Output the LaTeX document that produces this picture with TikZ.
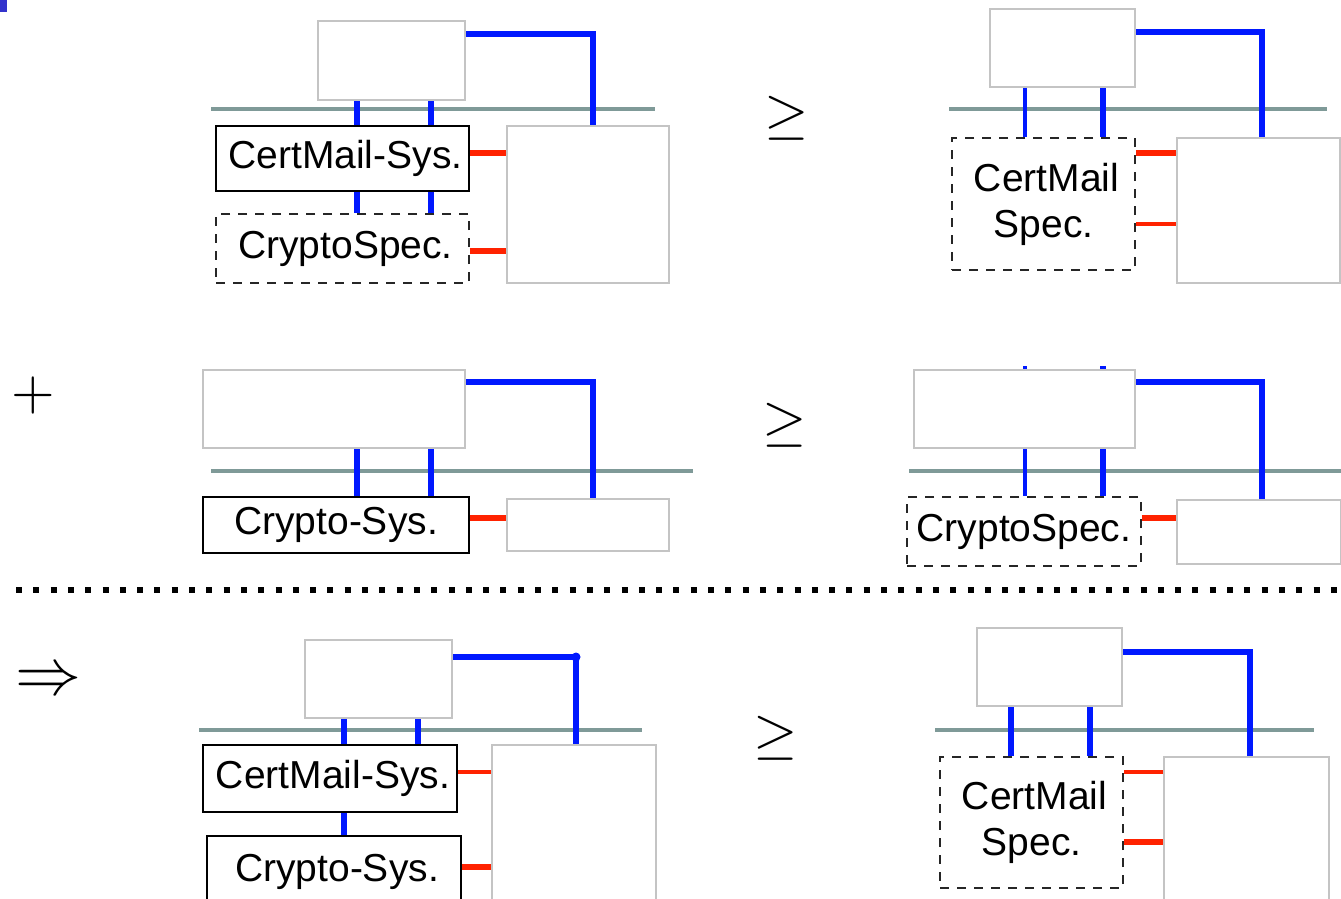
\documentclass[tikz,border=0pt]{standalone}
\usepackage{fontspec}
\setmainfont{Liberation Sans}
\definecolor{linkblue}{HTML}{0018FF}
\definecolor{linkred}{HTML}{FF2200}
\definecolor{busgray}{HTML}{7F9A98}
\definecolor{boxgray}{HTML}{C4C4C4}
\definecolor{cornerblue}{HTML}{3333CC}
\newcommand{\lblfont}{\fontsize{39}{46}\selectfont}
% relation signs: 10pt math scaled up
\newcommand{\bigsym}[2]{{\fontsize{10}{12}\selectfont\scalebox{#1}{$#2$}}}
\pgfdeclarelayer{bg}
\pgfdeclarelayer{paper}
\pgfsetlayers{paper,bg,main}
\tikzset{
  graybox/.style={draw=boxgray, line width=1.6pt, fill=white, inner sep=0pt},
  sysbox/.style={draw=black, line width=2pt, fill=white, inner sep=0pt, font=\lblfont},
  specbox/.style={draw=black!85, line width=1.8pt, dash pattern=on 9pt off 8pt,
    fill=white, inner sep=0pt, font=\lblfont, align=center},
  bus/.style={draw=busgray, line width=4.5pt},
  bl/.style={draw=linkblue, line width=6pt},
  blthin/.style={draw=linkblue, line width=4pt},
  rd/.style={draw=linkred, line width=5.5pt},
  rdthin/.style={draw=linkred, line width=3.5pt},
  relsym/.style={inner sep=0pt},
  sepline/.style={draw=black, line width=6pt, dash pattern=on 6pt off 11.3pt},
}
\begin{document}
\begin{tikzpicture}[x=1pt, y=-1pt]
\useasboundingbox (0,0) rectangle (1341,898);
\begin{pgfonlayer}{paper}
  \fill[white] (0,0) rectangle (1341,898);
  \fill[cornerblue] (0,0) rectangle (7,12);
\end{pgfonlayer}

% ---------- row 1, left: CertMail-Sys. over CryptoSpec.
\node[graybox, minimum width=147, minimum height=79] (top1) at (391.5,60.5) {};
\node[sysbox, minimum width=253, minimum height=65] (cm1) at (342.5,158.5) {\hspace*{6pt}CertMail-Sys.};
\node[specbox, minimum width=253, minimum height=69] (cs1) at (342.5,248.5) {\hspace*{6pt}CryptoSpec.};
\node[graybox, minimum width=162, minimum height=157] (r1) at (588,204.5) {};
\begin{pgfonlayer}{bg}
  \draw[bus] (211,109) -- (655,109);
  \draw[bl] (357,0 |- top1.south) -- (357,0 |- cm1.north);
  \draw[bl] (431,0 |- top1.south) -- (431,0 |- cm1.north);
  \draw[bl] (357,0 |- cm1.south) -- (357,0 |- cs1.north);
  \draw[bl] (431,0 |- cm1.south) -- (431,0 |- cs1.north);
  \draw[bl] (top1.east |- 0,34) -| (593,0 |- r1.north);
  \draw[rd] (cm1.east |- 0,153) -- (r1.west |- 0,153);
  \draw[rd] (cs1.east |- 0,251) -- (r1.west |- 0,251);
\end{pgfonlayer}

% ---------- row 1, right: CertMail Spec.
\node[relsym] (ge1) at (787,118) {\bigsym{5.7}{\geq}};
\node[graybox, minimum width=145, minimum height=78] (top2) at (1062.5,48) {};
\node[specbox, minimum width=183, minimum height=132] (cs2) at (1043.5,204) {\hspace*{6pt}CertMail\\Spec.};
\node[graybox, minimum width=163, minimum height=145] (r2) at (1258.5,210.5) {};
\begin{pgfonlayer}{bg}
  \draw[bus] (949,109) -- (1327,109);
  \draw[blthin] (1025,0 |- top2.south) -- (1025,0 |- cs2.north);
  \draw[bl] (1103,0 |- top2.south) -- (1103,0 |- cs2.north);
  \draw[bl] (top2.east |- 0,32) -| (1262,0 |- r2.north);
  \draw[rd] (cs2.east |- 0,153) -- (r2.west |- 0,153);
  \draw[rdthin] (cs2.east |- 0,224) -- (r2.west |- 0,224);
\end{pgfonlayer}

% ---------- row 2, left: Crypto-Sys.
\node[relsym] (plus) at (33,395) {\bigsym{5.6}{+}};
\node[graybox, minimum width=262, minimum height=78] (top3) at (334,409) {};
\node[sysbox, minimum width=266, minimum height=56] (cr3) at (336,525) {Crypto-Sys.};
\node[graybox, minimum width=162, minimum height=52] (r3) at (588,525) {};
\begin{pgfonlayer}{bg}
  \draw[bus] (211,471) -- (693,471);
  \draw[bl] (357,0 |- top3.south) -- (357,0 |- cr3.north);
  \draw[bl] (431,0 |- top3.south) -- (431,0 |- cr3.north);
  \draw[bl] (top3.east |- 0,382) -| (593,0 |- r3.north);
  \draw[rd] (cr3.east |- 0,518) -- (r3.west |- 0,518);
\end{pgfonlayer}

% ---------- row 2, right: CryptoSpec.
\node[relsym] (ge2) at (785,425) {\bigsym{5.7}{\geq}};
\node[graybox, minimum width=221, minimum height=78] (top4) at (1024.5,409) {};
\node[specbox, minimum width=234, minimum height=69] (cs4) at (1024,531.5) {CryptoSpec.};
\node[graybox, minimum width=164, minimum height=64] (r4) at (1259,532) {};
\coordinate (p4a) at (1025,366);
\coordinate (p4b) at (1103,366);
\begin{pgfonlayer}{bg}
  \draw[bus] (909,471) -- (1341,471);
  \draw[blthin] (p4a) -- (p4a |- cs4.north);
  \draw[bl] (p4b) -- (p4b |- cs4.north);
  \draw[bl] (top4.east |- 0,382) -| (1262,0 |- r4.north);
  \draw[rd] (cs4.east |- 0,518) -- (r4.west |- 0,518);
\end{pgfonlayer}

% ---------- separator
\draw[sepline] (16,590) -- (1341,590);

% ---------- row 3, left: composed system
\node[relsym] (impl) at (48,682) {\bigsym{6.6}{\Rightarrow}};
\node[graybox, minimum width=147, minimum height=78] (top5) at (378.5,679) {};
\node[sysbox, minimum width=254, minimum height=67] (cm5) at (330,778.5) {\hspace*{6pt}CertMail-Sys.};
\node[sysbox, minimum width=254, minimum height=72] (cr5) at (334,872) {\hspace*{6pt}Crypto-Sys.};
\node[graybox, minimum width=164, minimum height=205] (r5) at (574,847.5) {};
\begin{pgfonlayer}{bg}
  \draw[bus] (199,730) -- (642,730);
  \draw[bl] (344,0 |- top5.south) -- (344,0 |- cm5.north);
  \draw[bl] (418,0 |- top5.south) -- (418,0 |- cm5.north);
  \draw[bl] (344,0 |- cm5.south) -- (344,0 |- cr5.north);
  \draw[bl] (top5.east |- 0,657) -| (576,0 |- r5.north);
  \fill[linkblue] (576,657) circle (4.5);
  \draw[rdthin] (cm5.east |- 0,772) -- (r5.west |- 0,772);
  \draw[rd] (cr5.east |- 0,867) -- (r5.west |- 0,867);
\end{pgfonlayer}

% ---------- row 3, right: CertMail Spec.
\node[relsym] (ge3) at (776,738) {\bigsym{5.7}{\geq}};
\node[graybox, minimum width=145, minimum height=78] (top6) at (1049.5,667) {};
\node[specbox, minimum width=183, minimum height=131] (cs6) at (1031.5,822.5) {\hspace*{6pt}CertMail\\Spec.};
\node[graybox, minimum width=165, minimum height=193] (r6) at (1246.5,853.5) {};
\begin{pgfonlayer}{bg}
  \draw[bus] (935,730) -- (1314,730);
  \draw[bl] (1011,0 |- top6.south) -- (1011,0 |- cs6.north);
  \draw[bl] (1090,0 |- top6.south) -- (1090,0 |- cs6.north);
  \draw[bl] (top6.east |- 0,652) -| (1250,0 |- r6.north);
  \draw[rdthin] (cs6.east |- 0,772) -- (r6.west |- 0,772);
  \draw[rd] (cs6.east |- 0,842) -- (r6.west |- 0,842);
\end{pgfonlayer}
\end{tikzpicture}
\end{document}
